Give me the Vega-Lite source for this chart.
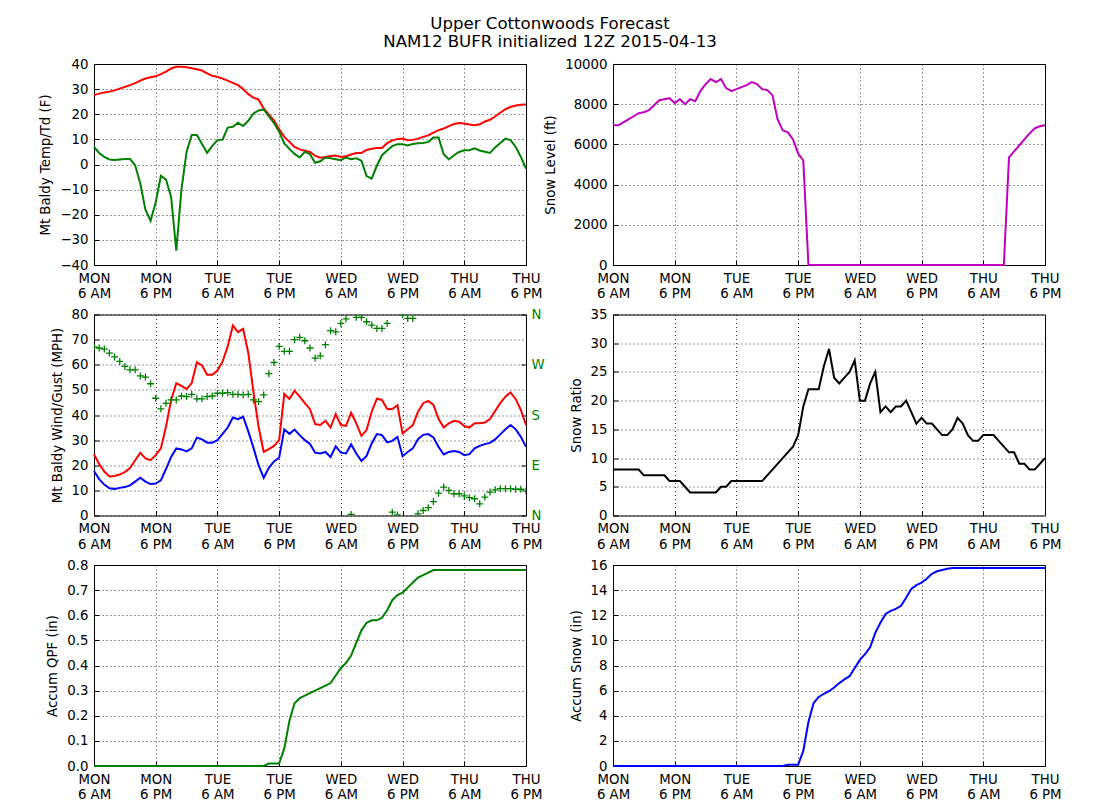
{
"$schema": "https://vega.github.io/schema/vega-lite/v6.json",
"padding": {"left": 38, "top": 15, "right": 5, "bottom": 5},
"title": {"text": ["Upper Cottonwoods Forecast", "NAM12 BUFR initialized 12Z 2015-04-13"], "font": "DejaVu Sans", "fontSize": 16.6, "fontWeight": "normal", "color": "black", "anchor": "middle", "lineHeight": 18, "offset": 6},
"config": {
  "font": "DejaVu Sans",
  "view": {"stroke": "black", "strokeWidth": 1},
  "axis": {"labelFont": "DejaVu Sans", "labelFontSize": 13.3, "labelColor": "black", "titleFont": "DejaVu Sans", "titleFontSize": 13.3, "titleFontWeight": "normal", "titleColor": "black", "grid": true, "gridColor": "black", "gridDash": [1, 3], "gridWidth": 0.8, "gridOpacity": 1, "domain": false, "ticks": true, "tickSize": -5, "tickColor": "black", "tickWidth": 1, "labelPadding": 11, "titlePadding": 7, "labelFlush": false, "labelOverlap": false, "labelBound": false},
  "line": {"strokeWidth": 2, "clip": true}
},
"data": {"values": [
{"h":0,"t":27.6,"td":7,"ws":17.7,"wg":24.4,"wd":302,"sl":6950,"sr":8,"qpf":0,"sn":0},
{"h":1,"t":28.2,"td":4.6,"ws":14.5,"wg":20.5,"wd":300,"sl":6950,"sr":8,"qpf":0,"sn":0},
{"h":2,"t":28.7,"td":3,"ws":12.3,"wg":17.5,"wd":298,"sl":7100,"sr":8,"qpf":0,"sn":0},
{"h":3,"t":29.0,"td":2,"ws":10.8,"wg":15.5,"wd":291,"sl":7250,"sr":8,"qpf":0,"sn":0},
{"h":4,"t":29.5,"td":1.8,"ws":10.6,"wg":15.7,"wd":284,"sl":7400,"sr":8,"qpf":0,"sn":0},
{"h":5,"t":30.2,"td":2,"ws":11,"wg":16.3,"wd":276,"sl":7550,"sr":8,"qpf":0,"sn":0},
{"h":6,"t":30.9,"td":2.2,"ws":11.3,"wg":17.3,"wd":267,"sl":7600,"sr":7,"qpf":0,"sn":0},
{"h":7,"t":31.6,"td":2.2,"ws":12,"wg":18.9,"wd":261,"sl":7700,"sr":7,"qpf":0,"sn":0},
{"h":8,"t":32.4,"td":-0.3,"ws":13.5,"wg":22,"wd":261,"sl":7950,"sr":7,"qpf":0,"sn":0},
{"h":9,"t":33.4,"td":-7.6,"ws":15,"wg":24.9,"wd":250,"sl":8200,"sr":7,"qpf":0,"sn":0},
{"h":10,"t":34.2,"td":-18,"ws":13.5,"wg":22.7,"wd":248,"sl":8250,"sr":7,"qpf":0,"sn":0},
{"h":11,"t":34.7,"td":-22.4,"ws":12.5,"wg":22,"wd":236,"sl":8300,"sr":6,"qpf":0,"sn":0},
{"h":12,"t":35.1,"td":-15,"ws":12.7,"wg":24,"wd":210,"sl":8050,"sr":6,"qpf":0,"sn":0},
{"h":13,"t":36.0,"td":-4.5,"ws":14,"wg":26.7,"wd":191,"sl":8250,"sr":6,"qpf":0,"sn":0},
{"h":14,"t":37.0,"td":-6,"ws":18.5,"wg":35.3,"wd":201,"sl":8000,"sr":5,"qpf":0,"sn":0},
{"h":15,"t":38.2,"td":-13,"ws":23.3,"wg":46,"wd":207,"sl":8250,"sr":4,"qpf":0,"sn":0},
{"h":16,"t":38.9,"td":-34.3,"ws":26.7,"wg":52.7,"wd":207,"sl":8150,"sr":4,"qpf":0,"sn":0},
{"h":17,"t":38.9,"td":-10,"ws":26.3,"wg":51.6,"wd":214,"sl":8650,"sr":4,"qpf":0,"sn":0},
{"h":18,"t":38.7,"td":5,"ws":25.5,"wg":50.3,"wd":213,"sl":9000,"sr":4,"qpf":0,"sn":0},
{"h":19,"t":38.3,"td":11.7,"ws":26.7,"wg":52.7,"wd":217,"sl":9250,"sr":4,"qpf":0,"sn":0},
{"h":20,"t":37.9,"td":11.7,"ws":31,"wg":61,"wd":209,"sl":9100,"sr":4,"qpf":0,"sn":0},
{"h":21,"t":37.4,"td":8.2,"ws":30.3,"wg":59.7,"wd":209,"sl":9250,"sr":5,"qpf":0,"sn":0},
{"h":22,"t":36.3,"td":4.6,"ws":29,"wg":56,"wd":213,"sl":8800,"sr":5,"qpf":0,"sn":0},
{"h":23,"t":35.3,"td":7.4,"ws":29,"wg":56,"wd":214,"sl":8650,"sr":6,"qpf":0,"sn":0},
{"h":24,"t":34.8,"td":9.7,"ws":30,"wg":57.7,"wd":219,"sl":8750,"sr":6,"qpf":0,"sn":0},
{"h":25,"t":34.2,"td":9.9,"ws":32.5,"wg":61.3,"wd":219,"sl":8850,"sr":6,"qpf":0,"sn":0},
{"h":26,"t":33.4,"td":14.7,"ws":35,"wg":67.3,"wd":220,"sl":8950,"sr":6,"qpf":0,"sn":0},
{"h":27,"t":32.5,"td":15,"ws":39,"wg":75.6,"wd":217,"sl":9100,"sr":6,"qpf":0,"sn":0},
{"h":28,"t":31.6,"td":16.6,"ws":38.3,"wg":73,"wd":217,"sl":9000,"sr":6,"qpf":0,"sn":0},
{"h":29,"t":30.0,"td":15.3,"ws":39.3,"wg":74.3,"wd":216,"sl":8750,"sr":6,"qpf":0,"sn":0},
{"h":30,"t":28.0,"td":17.4,"ws":33.5,"wg":64.7,"wd":217,"sl":8700,"sr":7,"qpf":0,"sn":0},
{"h":31,"t":26.6,"td":20.3,"ws":27,"wg":49.3,"wd":207,"sl":8450,"sr":8,"qpf":0,"sn":0},
{"h":32,"t":25.8,"td":21.5,"ws":20,"wg":35.3,"wd":204,"sl":7250,"sr":9,"qpf":0,"sn":0},
{"h":33,"t":22.3,"td":21.9,"ws":15,"wg":25.3,"wd":216,"sl":6700,"sr":10,"qpf":0,"sn":0},
{"h":34,"t":19.8,"td":19.2,"ws":19,"wg":26.4,"wd":254,"sl":6600,"sr":11,"qpf":0.01,"sn":0.1},
{"h":35,"t":17.6,"td":16.5,"ws":21.5,"wg":27.7,"wd":274,"sl":6250,"sr":12,"qpf":0.01,"sn":0.1},
{"h":36,"t":14.0,"td":13,"ws":23,"wg":30,"wd":303,"sl":5550,"sr":14,"qpf":0.01,"sn":0.1},
{"h":37,"t":11.0,"td":8.4,"ws":34.3,"wg":48.4,"wd":294,"sl":5200,"sr":19,"qpf":0.07,"sn":1.2},
{"h":38,"t":9.0,"td":6.2,"ws":32.5,"wg":46.4,"wd":294,"sl":0,"sr":22,"qpf":0.18,"sn":3.5},
{"h":39,"t":7.0,"td":4.2,"ws":34.2,"wg":49.7,"wd":315,"sl":0,"sr":22,"qpf":0.25,"sn":5.0},
{"h":40,"t":6.0,"td":2.8,"ws":32,"wg":47.3,"wd":319,"sl":0,"sr":22,"qpf":0.27,"sn":5.5},
{"h":41,"t":5.5,"td":5,"ws":30,"wg":44.7,"wd":313,"sl":0,"sr":26,"qpf":0.28,"sn":5.75},
{"h":42,"t":5.0,"td":4.1,"ws":28.5,"wg":42.3,"wd":300,"sl":0,"sr":29,"qpf":0.29,"sn":5.95},
{"h":43,"t":3.5,"td":0.7,"ws":25,"wg":36.4,"wd":282,"sl":0,"sr":24,"qpf":0.30,"sn":6.25},
{"h":44,"t":2.7,"td":1.3,"ws":24.7,"wg":36,"wd":286,"sl":0,"sr":23,"qpf":0.31,"sn":6.6},
{"h":45,"t":3.0,"td":2.8,"ws":25.3,"wg":37.7,"wd":306,"sl":0,"sr":24,"qpf":0.32,"sn":6.9},
{"h":46,"t":3.4,"td":2.5,"ws":23.3,"wg":35,"wd":331,"sl":0,"sr":25,"qpf":0.33,"sn":7.15},
{"h":47,"t":3.6,"td":2.1,"ws":27.5,"wg":40.4,"wd":329,"sl":0,"sr":27,"qpf":0.36,"sn":7.8},
{"h":48,"t":3.0,"td":1.7,"ws":25,"wg":36,"wd":344,"sl":0,"sr":20,"qpf":0.39,"sn":8.45},
{"h":49,"t":3.3,"td":2.8,"ws":24.7,"wg":35.7,"wd":352,"sl":0,"sr":20,"qpf":0.41,"sn":8.9},
{"h":50,"t":4.0,"td":2.1,"ws":28.3,"wg":40.9,"wd":2,"sl":0,"sr":23,"qpf":0.44,"sn":9.45},
{"h":51,"t":4.6,"td":2.5,"ws":24.7,"wg":36.7,"wd":355,"sl":0,"sr":25,"qpf":0.49,"sn":10.6},
{"h":52,"t":4.6,"td":1.5,"ws":21.7,"wg":31.7,"wd":355,"sl":0,"sr":18,"qpf":0.54,"sn":11.4},
{"h":53,"t":5.8,"td":-4.6,"ws":23.7,"wg":34,"wd":347,"sl":0,"sr":19,"qpf":0.57,"sn":12.1},
{"h":54,"t":6.3,"td":-5.6,"ws":28.7,"wg":41.3,"wd":341,"sl":0,"sr":18,"qpf":0.58,"sn":12.35},
{"h":55,"t":6.6,"td":-0.5,"ws":32.4,"wg":46.5,"wd":335,"sl":0,"sr":19,"qpf":0.58,"sn":12.5},
{"h":56,"t":6.6,"td":3.7,"ws":32,"wg":46,"wd":335,"sl":0,"sr":19,"qpf":0.59,"sn":12.75},
{"h":57,"t":8.5,"td":5.6,"ws":29.1,"wg":42.4,"wd":344,"sl":0,"sr":20,"qpf":0.62,"sn":13.4},
{"h":58,"t":9.6,"td":7.3,"ws":29.7,"wg":42.4,"wd":6,"sl":0,"sr":18,"qpf":0.66,"sn":14.1},
{"h":59,"t":10.1,"td":8.1,"ws":31.3,"wg":43.9,"wd":1,"sl":0,"sr":16,"qpf":0.68,"sn":14.4},
{"h":60,"t":10.3,"td":8.1,"ws":23.6,"wg":32.7,"wd":360,"sl":0,"sr":17,"qpf":0.69,"sn":14.6},
{"h":61,"t":9.7,"td":7.6,"ws":25.3,"wg":34.3,"wd":353,"sl":0,"sr":16,"qpf":0.71,"sn":14.9},
{"h":62,"t":9.8,"td":8.2,"ws":26.7,"wg":36,"wd":353,"sl":0,"sr":16,"qpf":0.73,"sn":15.3},
{"h":63,"t":10.3,"td":8.5,"ws":30.4,"wg":41.3,"wd":3,"sl":0,"sr":15,"qpf":0.75,"sn":15.5},
{"h":64,"t":11.0,"td":8.6,"ws":32.1,"wg":44.7,"wd":9,"sl":0,"sr":14,"qpf":0.76,"sn":15.6},
{"h":65,"t":11.6,"td":9,"ws":32.4,"wg":45.6,"wd":14,"sl":0,"sr":14,"qpf":0.77,"sn":15.7},
{"h":66,"t":12.7,"td":10.7,"ws":31.1,"wg":44,"wd":25,"sl":0,"sr":15,"qpf":0.78,"sn":15.76},
{"h":67,"t":13.7,"td":10.7,"ws":27.3,"wg":38.4,"wd":40,"sl":0,"sr":17,"qpf":0.78,"sn":15.76},
{"h":68,"t":14.3,"td":4.1,"ws":24.3,"wg":35,"wd":51,"sl":0,"sr":16,"qpf":0.78,"sn":15.76},
{"h":69,"t":15.3,"td":2,"ws":25.3,"wg":36.7,"wd":45,"sl":0,"sr":14,"qpf":0.78,"sn":15.76},
{"h":70,"t":16.1,"td":3.7,"ws":25.7,"wg":37.7,"wd":39,"sl":0,"sr":13,"qpf":0.78,"sn":15.76},
{"h":71,"t":16.5,"td":5,"ws":25.3,"wg":37.3,"wd":39,"sl":0,"sr":13,"qpf":0.78,"sn":15.76},
{"h":72,"t":16.3,"td":5.7,"ws":24,"wg":35.6,"wd":35,"sl":0,"sr":14,"qpf":0.78,"sn":15.76},
{"h":73,"t":15.9,"td":5.7,"ws":24.4,"wg":35,"wd":32,"sl":0,"sr":14,"qpf":0.78,"sn":15.76},
{"h":74,"t":15.6,"td":6.4,"ws":26.7,"wg":36.7,"wd":30,"sl":0,"sr":14,"qpf":0.78,"sn":15.76},
{"h":75,"t":16.0,"td":5.6,"ws":27.7,"wg":36.7,"wd":21,"sl":0,"sr":13,"qpf":0.78,"sn":15.76},
{"h":76,"t":17.1,"td":5.1,"ws":28.4,"wg":37,"wd":33,"sl":0,"sr":12,"qpf":0.78,"sn":15.76},
{"h":77,"t":17.8,"td":4.6,"ws":28.9,"wg":38.4,"wd":42,"sl":5350,"sr":11,"qpf":0.78,"sn":15.76},
{"h":78,"t":19.1,"td":6.8,"ws":30.3,"wg":41.6,"wd":46,"sl":5650,"sr":11,"qpf":0.78,"sn":15.76},
{"h":79,"t":20.6,"td":8.6,"ws":32.3,"wg":44.7,"wd":48,"sl":5950,"sr":9,"qpf":0.78,"sn":15.76},
{"h":80,"t":22.0,"td":10.3,"ws":34.3,"wg":47.3,"wd":48,"sl":6250,"sr":9,"qpf":0.78,"sn":15.76},
{"h":81,"t":22.9,"td":9.7,"ws":36,"wg":49,"wd":48,"sl":6550,"sr":8,"qpf":0.78,"sn":15.76},
{"h":82,"t":23.5,"td":7,"ws":34.3,"wg":46.3,"wd":47,"sl":6800,"sr":8,"qpf":0.78,"sn":15.76},
{"h":83,"t":23.8,"td":3,"ws":31.3,"wg":42,"wd":47,"sl":6900,"sr":9,"qpf":0.78,"sn":15.76},
{"h":84,"t":23.9,"td":-1.6,"ws":27.3,"wg":36,"wd":44,"sl":6950,"sr":10,"qpf":0.78,"sn":15.76}
]},
"columns": 2,
"spacing": {"row": 49.5, "column": 87},
"bounds": "flush",
"concat": [
{"width": 432, "height": 201, "layer": [
  {"mark": {"type": "line", "color": "#ff0000"}, "encoding": {
    "x": {"field": "h", "type": "quantitative", "scale": {"domain": [0, 84], "nice": false, "zero": false}, "axis": {"title": null, "values": [0,12,24,36,48,60,72,84], "labelExpr": "[['MON','6 AM'],['MON','6 PM'],['TUE','6 AM'],['TUE','6 PM'],['WED','6 AM'],['WED','6 PM'],['THU','6 AM'],['THU','6 PM']][round(datum.value/12)]", "labelLineHeight": 15.7, "labelBaseline": "top", "labelPadding": 11}},
    "y": {"field": "t", "type": "quantitative", "scale": {"domain": [-40, 40], "nice": false}, "axis": {"title": "Mt Baldy Temp/Td (F)", "values": [-40,-30,-20,-10,0,10,20,30,40]}}}},
  {"mark": {"type": "line", "color": "#008000"}, "encoding": {
    "x": {"field": "h", "type": "quantitative"},
    "y": {"field": "td", "type": "quantitative", "axis": {"title": "Mt Baldy Temp/Td (F)", "values": [-40,-30,-20,-10,0,10,20,30,40]}}}}
]},
{"width": 432, "height": 201, "mark": {"type": "line", "color": "#bf00bf"}, "encoding": {
    "x": {"field": "h", "type": "quantitative", "scale": {"domain": [0, 84], "nice": false, "zero": false}, "axis": {"title": null, "values": [0,12,24,36,48,60,72,84], "labelExpr": "[['MON','6 AM'],['MON','6 PM'],['TUE','6 AM'],['TUE','6 PM'],['WED','6 AM'],['WED','6 PM'],['THU','6 AM'],['THU','6 PM']][round(datum.value/12)]", "labelLineHeight": 15.7, "labelBaseline": "top", "labelPadding": 11}},
    "y": {"field": "sl", "type": "quantitative", "scale": {"domain": [0, 10000], "nice": false}, "axis": {"title": "Snow Level (ft)", "values": [0,2000,4000,6000,8000,10000], "format": "d"}}}},
{"width": 432, "height": 201, "layer": [
  {"layer": [
    {"mark": {"type": "line", "color": "#ff0000"}, "encoding": {
      "x": {"field": "h", "type": "quantitative", "scale": {"domain": [0, 84], "nice": false, "zero": false}, "axis": {"title": null, "values": [0,12,24,36,48,60,72,84], "labelExpr": "[['MON','6 AM'],['MON','6 PM'],['TUE','6 AM'],['TUE','6 PM'],['WED','6 AM'],['WED','6 PM'],['THU','6 AM'],['THU','6 PM']][round(datum.value/12)]", "labelLineHeight": 15.7, "labelBaseline": "top", "labelPadding": 11}},
      "y": {"field": "wg", "type": "quantitative", "scale": {"domain": [0, 80], "nice": false}, "axis": {"title": "Mt Baldy Wind/Gust (MPH)", "values": [0,10,20,30,40,50,60,70,80]}}}},
    {"mark": {"type": "line", "color": "#0000ff"}, "encoding": {
      "x": {"field": "h", "type": "quantitative"},
      "y": {"field": "ws", "type": "quantitative", "axis": {"title": "Mt Baldy Wind/Gust (MPH)", "values": [0,10,20,30,40,50,60,70,80]}}}}
  ]},
  {"mark": {"type": "point", "shape": "M-1,0L1,0M0,-1L0,1", "filled": false, "color": "#008000", "strokeWidth": 1.3, "size": 49, "opacity": 1, "clip": true}, "encoding": {
    "x": {"field": "h", "type": "quantitative"},
    "y": {"field": "wd", "type": "quantitative", "scale": {"domain": [0, 360], "nice": false}, "axis": {"orient": "right", "title": null, "grid": false, "values": [0,90,180,270,360], "labelExpr": "datum.value==90?'E':datum.value==180?'S':datum.value==270?'W':'N'", "labelColor": "#008000", "labelPadding": 10}}}}
], "resolve": {"scale": {"y": "independent"}}},
{"width": 432, "height": 201, "mark": {"type": "line", "color": "#000000"}, "encoding": {
    "x": {"field": "h", "type": "quantitative", "scale": {"domain": [0, 84], "nice": false, "zero": false}, "axis": {"title": null, "values": [0,12,24,36,48,60,72,84], "labelExpr": "[['MON','6 AM'],['MON','6 PM'],['TUE','6 AM'],['TUE','6 PM'],['WED','6 AM'],['WED','6 PM'],['THU','6 AM'],['THU','6 PM']][round(datum.value/12)]", "labelLineHeight": 15.7, "labelBaseline": "top", "labelPadding": 11}},
    "y": {"field": "sr", "type": "quantitative", "scale": {"domain": [0, 35], "nice": false}, "axis": {"title": "Snow Ratio", "values": [0,5,10,15,20,25,30,35]}}}},
{"width": 432, "height": 201, "mark": {"type": "line", "color": "#008000"}, "encoding": {
    "x": {"field": "h", "type": "quantitative", "scale": {"domain": [0, 84], "nice": false, "zero": false}, "axis": {"title": null, "values": [0,12,24,36,48,60,72,84], "labelExpr": "[['MON','6 AM'],['MON','6 PM'],['TUE','6 AM'],['TUE','6 PM'],['WED','6 AM'],['WED','6 PM'],['THU','6 AM'],['THU','6 PM']][round(datum.value/12)]", "labelLineHeight": 15.7, "labelBaseline": "top", "labelPadding": 11}},
    "y": {"field": "qpf", "type": "quantitative", "scale": {"domain": [0, 0.8], "nice": false}, "axis": {"title": "Accum QPF (in)", "values": [0,0.1,0.2,0.3,0.4,0.5,0.6,0.7,0.8], "format": ".1f"}}}},
{"width": 432, "height": 201, "mark": {"type": "line", "color": "#0000ff"}, "encoding": {
    "x": {"field": "h", "type": "quantitative", "scale": {"domain": [0, 84], "nice": false, "zero": false}, "axis": {"title": null, "values": [0,12,24,36,48,60,72,84], "labelExpr": "[['MON','6 AM'],['MON','6 PM'],['TUE','6 AM'],['TUE','6 PM'],['WED','6 AM'],['WED','6 PM'],['THU','6 AM'],['THU','6 PM']][round(datum.value/12)]", "labelLineHeight": 15.7, "labelBaseline": "top", "labelPadding": 11}},
    "y": {"field": "sn", "type": "quantitative", "scale": {"domain": [0, 16], "nice": false}, "axis": {"title": "Accum Snow (in)", "values": [0,2,4,6,8,10,12,14,16]}}}}
]
}
